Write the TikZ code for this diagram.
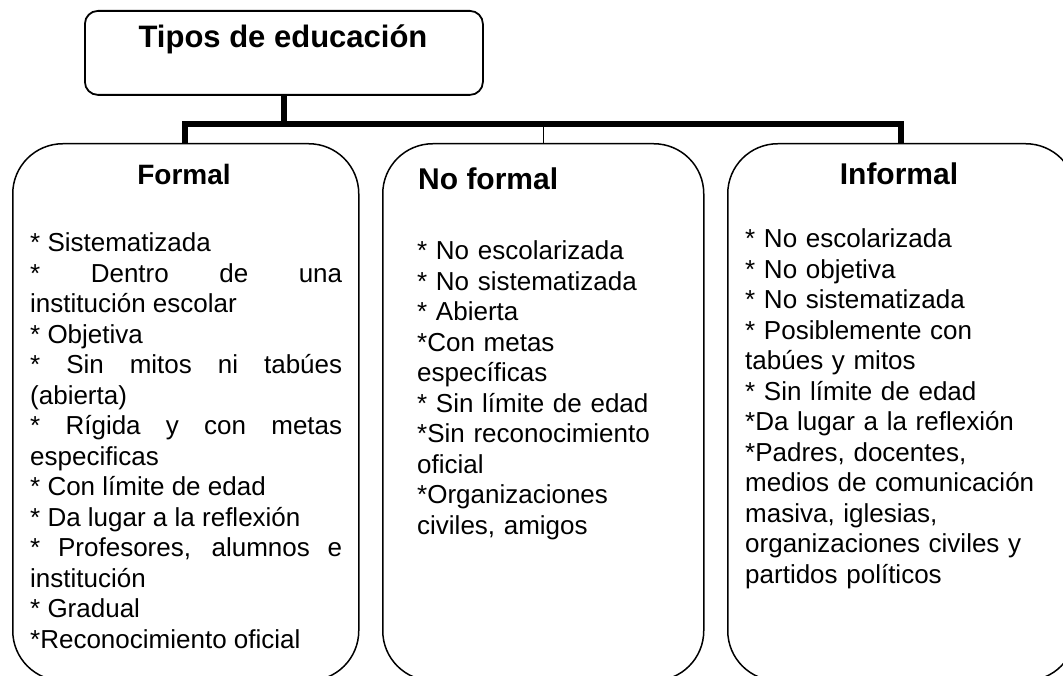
\documentclass[tikz,border=0pt]{standalone}
\usepackage{fontspec}
\setmainfont{Liberation Sans}
\begin{document}
\begin{tikzpicture}[x=1pt,y=-1pt,
  panel/.style={draw, line width=1.5pt, rounded corners=50pt, inner sep=0pt, anchor=north west},
  titlebox/.style={draw, line width=1.8pt, rounded corners=13pt, inner sep=0pt, anchor=north west},
  conn/.style={line width=6pt, line join=miter},
  thinconn/.style={line width=1pt},
  heading/.style={font=\bfseries\fontsize{30}{34}\selectfont, inner sep=0pt},
  body/.style={font=\fontsize{26}{30.5}\selectfont\parindent0pt, inner sep=0pt, anchor=base west}
]
\useasboundingbox (0,0) rectangle (1063,676);
\clip (0,0) rectangle (1063,676);
\fill[white] (0,0) rectangle (1063,676);

% boxes
\node[titlebox, minimum width=398pt, minimum height=84pt] (top) at (84,10) {};
\node[panel, minimum width=346pt, minimum height=537pt] (formal) at (12,143) {};
\node[panel, minimum width=321pt, minimum height=537pt] (nof) at (382,143) {};
\node[panel, minimum width=348pt, minimum height=537pt] (inf) at (727,143) {};

% connectors
\coordinate (busL) at (185,124);
\coordinate (busR) at (901,124);
\draw[conn] (top.south) -- (top.south |- busL);
\draw[conn] (busL |- formal.north) -- (busL) -- (busR) -- (busR |- inf.north);
\draw[thinconn] (nof.north) -- (nof.north |- busL);

% texts
\node[font=\bfseries\fontsize{31}{35}\selectfont, inner sep=0pt, anchor=base] (ttl) at (283,48) {Tipos de educación};
\node[heading, anchor=base, font=\bfseries\fontsize{28}{32}\selectfont] (hf) at (184,185) {Formal};
\node[heading, anchor=base west] (hn) at (418,190) {No formal};
\node[heading, anchor=base] (hi) at (899,185) {Informal};

\node[body, text width=312pt, align=justify] (tf) at (30,252) {%
* Sistematizada\par
* Dentro de una\linebreak institución escolar\par
* Objetiva\par
* Sin mitos ni tabúes\linebreak (abierta)\par
* Rígida y con metas\linebreak especificas\par
* Con límite de edad\par
* Da lugar a la reflexión\par
* Profesores, alumnos e\linebreak institución\par
* Gradual\par
*Reconocimiento oficial};

\node[body, text width=280pt, align=left] (tn) at (417,260) {%
* No escolarizada\par
* No sistematizada\par
* Abierta\par
*Con metas\par
específicas\par
* Sin límite de edad\par
*Sin reconocimiento\par
oficial\par
*Organizaciones\par
civiles, amigos};

\node[body, text width=310pt, align=left] (ti) at (745,248) {%
* No escolarizada\par
* No objetiva\par
* No sistematizada\par
* Posiblemente con\par
tabúes y mitos\par
* Sin límite de edad\par
*Da lugar a la reflexión\par
*Padres, docentes,\par
medios de comunicación\par
masiva, iglesias,\par
organizaciones civiles y\par
partidos políticos};
\end{tikzpicture}
\end{document}
